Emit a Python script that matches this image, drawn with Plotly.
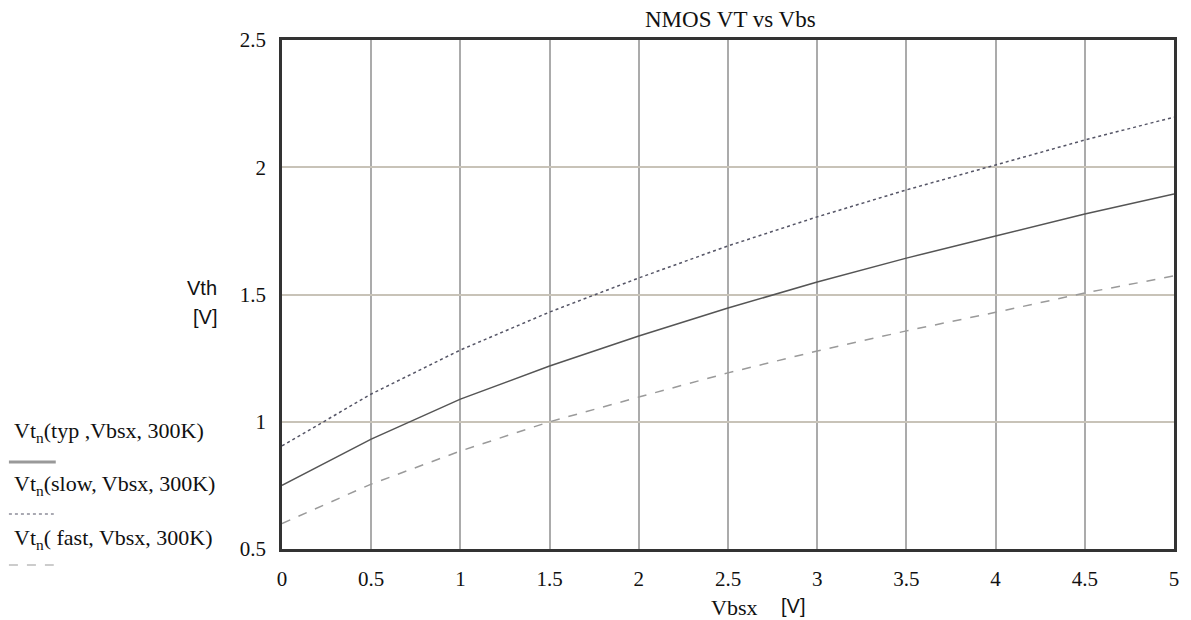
import plotly.graph_objects as go

vbs = [0, 0.5, 1, 1.5, 2, 2.5, 3, 3.5, 4, 4.5, 5]
vt_typ = [0.75, 0.932, 1.089, 1.219, 1.337, 1.447, 1.549, 1.643, 1.730, 1.816, 1.895]
vt_slow = [0.905, 1.109, 1.282, 1.431, 1.565, 1.691, 1.805, 1.911, 2.009, 2.107, 2.197]
vt_fast = [0.60, 0.755, 0.885, 1.0, 1.097, 1.192, 1.278, 1.357, 1.43, 1.506, 1.573]

x_ticks = [0, 0.5, 1, 1.5, 2, 2.5, 3, 3.5, 4, 4.5, 5]
x_tick_labels = ["0", "0.5", "1", "1.5", "2", "2.5", "3", "3.5", "4", "4.5", "5"]
y_ticks = [0.5, 1, 1.5, 2, 2.5]
y_tick_labels = ["0.5", "1", "1.5", "2", "2.5"]

legend_labels = [
    "Vt<sub>n</sub>(typ ,Vbsx, 300K)",
    "Vt<sub>n</sub>(slow, Vbsx, 300K)",
    "Vt<sub>n</sub>( fast, Vbsx, 300K)",
]

W, H = 1191, 620
L, R, T, B = 282, 14, 40, 71
PW, PH = W - L - R, H - T - B

def px(x):
    return (x - L) / PW

def py(y):
    return (H - B - y) / PH

SERIF = "Liberation Serif"
SANS = "Liberation Sans"

fig = go.Figure()
fig.add_trace(go.Scatter(x=vbs, y=vt_typ, mode="lines",
                         line=dict(color="#555555", width=1.5, dash="solid"), showlegend=False))
fig.add_trace(go.Scatter(x=vbs, y=vt_slow, mode="lines",
                         line=dict(color="#555566", width=1.5, dash="dot"), showlegend=False))
fig.add_trace(go.Scatter(x=vbs, y=vt_fast, mode="lines",
                         line=dict(color="#9a9a9a", width=1.5, dash="dash"), showlegend=False))

annotations = [
    dict(text="NMOS VT vs Vbs", x=px(732), y=py(19), xref="paper", yref="paper",
         showarrow=False, font=dict(family=SERIF, size=23, color="#111111"),
         xanchor="center", yanchor="middle"),
    dict(text="Vth", x=px(202), y=py(288), xref="paper", yref="paper",
         showarrow=False, font=dict(family=SANS, size=20, color="#111111"),
         xanchor="center", yanchor="middle"),
    dict(text="[V]", x=px(205), y=py(317), xref="paper", yref="paper",
         showarrow=False, font=dict(family=SANS, size=20, color="#111111"),
         xanchor="center", yanchor="middle"),
    dict(text="Vbsx", x=px(736), y=py(607), xref="paper", yref="paper",
         showarrow=False, font=dict(family=SERIF, size=22, color="#111111"),
         xanchor="center", yanchor="middle"),
    dict(text="[V]", x=px(795), y=py(606), xref="paper", yref="paper",
         showarrow=False, font=dict(family=SANS, size=20, color="#111111"),
         xanchor="center", yanchor="middle"),
]
leg_y = [432, 485, 539]
for lab, yy in zip(legend_labels, leg_y):
    annotations.append(dict(text=lab, x=px(11), y=py(yy), xref="paper", yref="paper",
                            showarrow=False, font=dict(family=SERIF, size=22, color="#111111"),
                            xanchor="left", yanchor="middle"))

shapes = [
    dict(type="line", xref="paper", yref="paper", x0=px(8), x1=px(55), y0=py(462), y1=py(462),
         line=dict(color="#999999", width=3)),
    dict(type="line", xref="paper", yref="paper", x0=px(8), x1=px(53), y0=py(514), y1=py(514),
         line=dict(color="#555566", width=1.2, dash="dot")),
    dict(type="line", xref="paper", yref="paper", x0=px(8), x1=px(53), y0=py(565), y1=py(565),
         line=dict(color="#9a9a9a", width=1.2, dash="dash")),
]

fig.update_layout(
    width=W, height=H,
    margin=dict(l=L, r=R, t=T, b=B),
    paper_bgcolor="white", plot_bgcolor="white",
    annotations=annotations, shapes=shapes,
    showlegend=False,
    xaxis=dict(range=[0, 5], tickvals=x_ticks, ticktext=x_tick_labels,
               showgrid=True, gridcolor="#ababab", gridwidth=1.5, zeroline=False,
               showline=True, linecolor="#333333", linewidth=2.5, mirror=True,
               ticks="", ticklabelstandoff=9,
               tickfont=dict(family=SERIF, size=21, color="#111111")),
    yaxis=dict(range=[0.5, 2.5], tickvals=y_ticks, ticktext=y_tick_labels,
               showgrid=True, gridcolor="#c8c3b8", gridwidth=1.5, zeroline=False,
               showline=True, linecolor="#333333", linewidth=2.5, mirror=True,
               ticks="", ticklabelstandoff=9,
               tickfont=dict(family=SERIF, size=21, color="#111111")),
)

fig.write_html("out.html")
